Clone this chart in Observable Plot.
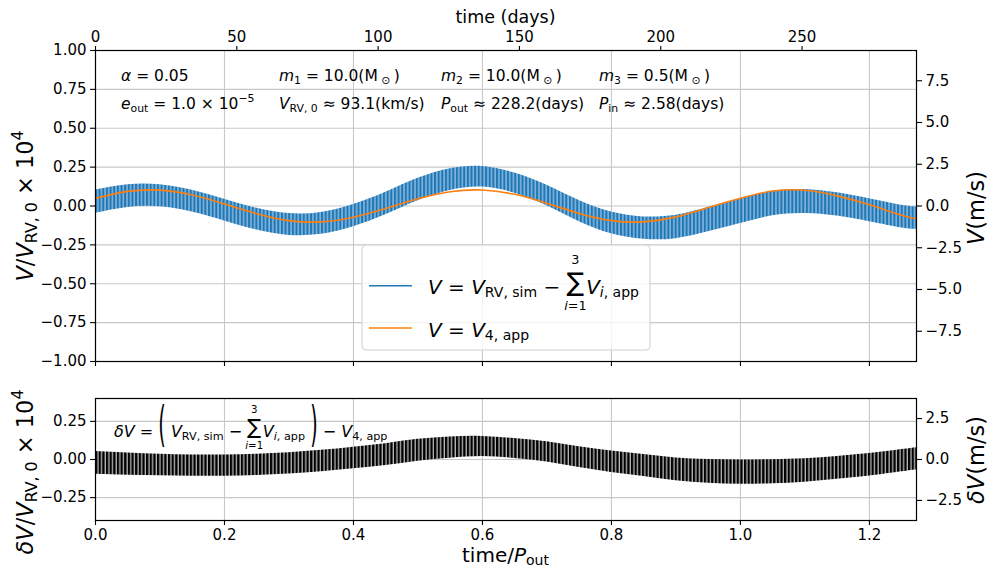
<!DOCTYPE html>
<html><head><meta charset="utf-8">
<script src="https://cdn.jsdelivr.net/npm/d3@7"></script>
<script src="https://cdn.jsdelivr.net/npm/@observablehq/plot@0.6"></script>
<style>
body{margin:0;background:#fff;}
#wrap{position:relative;width:990px;height:574px;overflow:hidden;background:#fff;font-family:"DejaVu Sans",sans-serif;}
#wrap svg{position:absolute;left:0;}
#wrap svg text{white-space:pre;}
</style></head><body><div id="wrap"></div>
<script>
// ---- constants ----
const POUT = 228.2;      // days
const PIN = 2.58;        // days
const VRV0 = 9.31;       // m/s per (V/V_RV,0 x 1e4) unit
const XMAX = 1.273;

// ---- ticks ----
const xTicks = [0, 0.2, 0.4, 0.6, 0.8, 1.0, 1.2];
const dayTicks = [0, 50, 100, 150, 200, 250];
const yTicksTop = [-1, -0.75, -0.5, -0.25, 0, 0.25, 0.5, 0.75, 1];
const vTicksTop = [-7.5, -5, -2.5, 0, 2.5, 5, 7.5];
const yTicksBot = [-0.25, 0, 0.25];
const vTicksBot = [-2.5, 0, 2.5];

// ---- series (time / P_out samples, values in V/V_RV,0 x 1e4) ----
const tSample   = [0, 0.05, 0.10, 0.15, 0.20, 0.25, 0.30, 0.35, 0.40, 0.45, 0.50, 0.55, 0.60, 0.65, 0.70, 0.75, 0.80, 0.85, 0.90, 0.95, 1.00, 1.05, 1.10, 1.15, 1.20, 1.25, 1.273];
const orangeV   = [0.050, 0.094, 0.102, 0.071, 0.013, -0.050, -0.094, -0.102, -0.072, -0.016, 0.046, 0.092, 0.103, 0.075, 0.017, -0.048, -0.094, -0.102, -0.070, -0.010, 0.050, 0.096, 0.101, 0.065, 0.008, -0.060, -0.082];
const blueUpper = [0.103, 0.137, 0.137, 0.101, 0.043, -0.015, -0.049, -0.042, 0.009, 0.088, 0.178, 0.240, 0.254, 0.212, 0.133, 0.035, -0.039, -0.070, -0.060, -0.010, 0.047, 0.095, 0.106, 0.085, 0.047, 0.005, -0.005];
const blueLower = [-0.047, -0.009, -0.005, -0.039, -0.097, -0.155, -0.189, -0.182, -0.133, -0.056, 0.034, 0.100, 0.122, 0.082, 0.001, -0.101, -0.179, -0.214, -0.210, -0.166, -0.113, -0.063, -0.048, -0.065, -0.101, -0.141, -0.149];
const deltaUpper = [0.053, 0.043, 0.035, 0.030, 0.030, 0.035, 0.045, 0.060, 0.081, 0.104, 0.132, 0.148, 0.151, 0.137, 0.116, 0.083, 0.055, 0.032, 0.010, 0.000, -0.003, -0.001, 0.005, 0.020, 0.039, 0.065, 0.077];
const deltaLower = [-0.097, -0.103, -0.107, -0.110, -0.110, -0.105, -0.095, -0.080, -0.061, -0.040, -0.012, 0.008, 0.019, 0.007, -0.016, -0.053, -0.085, -0.112, -0.140, -0.156, -0.163, -0.159, -0.149, -0.130, -0.109, -0.081, -0.067];

const rows = tSample.map((t, i) => ({t, o: orangeV[i], bu: blueUpper[i], bl: blueLower[i], du: deltaUpper[i], dl: deltaLower[i]}));

const BLUE = "#1f77b4", ORANGE = "#ff7f0e";
const NS = "http://www.w3.org/2000/svg";
function el(tag, attrs, parent) {
  const e = document.createElementNS(NS, tag);
  for (const k in attrs) e.setAttribute(k, attrs[k]);
  if (parent) parent.appendChild(e);
  return e;
}

const common = {
  width: 990, marginLeft: 95, marginRight: 74,
  style: {fontFamily: '"DejaVu Sans", sans-serif', fontSize: "15px", color: "#000", background: "transparent", overflow: "visible"}
};
const gridStyle = {stroke: "#c8c8c8", strokeOpacity: 1, strokeWidth: 1.1};
const axStyle = {tickSize: 5, tickPadding: 4, strokeWidth: 1.1, label: null};

const wrap = document.getElementById("wrap");

const topPlot = Plot.plot({
  ...common, height: 370, marginTop: 50, marginBottom: 9,
  x: {domain: [0, XMAX]}, y: {domain: [-1, 1]},
  marks: [
    Plot.gridX(xTicks, gridStyle),
    Plot.gridY(yTicksTop, gridStyle),
    Plot.areaY(rows, {x: "t", y1: "bl", y2: "bu", fill: "url(#bluePat)", curve: "natural"}),
    Plot.lineY(rows, {x: "t", y: "o", stroke: ORANGE, strokeWidth: 1.6, curve: "natural"}),
    Plot.frame({stroke: "#000", strokeWidth: 1.2}),
    Plot.axisY({...axStyle, ticks: yTicksTop, anchor: "left", tickFormat: d3.format(".2f")}),
    Plot.axisY({...axStyle, ticks: vTicksTop.map(v => v / VRV0), anchor: "right", tickFormat: d => d3.format(".1f")(d * VRV0)}),
    Plot.axisX({...axStyle, ticks: dayTicks.map(d => d / POUT), anchor: "top", tickFormat: d => d3.format("d")(Math.round(d * POUT))}),
    Plot.axisX({...axStyle, ticks: xTicks, anchor: "bottom", tickFormat: () => ""})
  ]
});
topPlot.style.top = "0px";
wrap.appendChild(topPlot);

const botPlot = Plot.plot({
  ...common, height: 204, marginTop: 28, marginBottom: 54,
  x: {domain: [0, XMAX]}, y: {domain: [-0.4, 0.4]},
  marks: [
    Plot.gridX(xTicks, gridStyle),
    Plot.gridY(yTicksBot, gridStyle),
    Plot.areaY(rows, {x: "t", y1: "dl", y2: "du", fill: "url(#blackPat)", curve: "natural"}),
    Plot.frame({stroke: "#000", strokeWidth: 1.2}),
    Plot.axisY({...axStyle, ticks: yTicksBot, anchor: "left", tickFormat: d3.format(".2f")}),
    Plot.axisY({...axStyle, ticks: vTicksBot.map(v => v / VRV0), anchor: "right", tickFormat: d => d3.format(".1f")(d * VRV0)}),
    Plot.axisX({...axStyle, ticks: xTicks, anchor: "bottom", tickFormat: d3.format(".1f")})
  ]
});
botPlot.style.top = "370px";
wrap.appendChild(botPlot);

// stripe patterns mimic the fast inner-orbit oscillation (half period P_in/2)
function addPattern(svg, id, dark, light, frac) {
  const xs = svg.scale("x");
  const x0 = xs.apply(0);
  const pw = xs.apply(PIN / POUT / 2) - x0;
  const defs = el("defs", {});
  svg.insertBefore(defs, svg.firstChild);
  const p = el("pattern", {id, patternUnits: "userSpaceOnUse", x: x0, y: 0, width: pw, height: 20}, defs);
  el("rect", {x: 0, y: 0, width: pw, height: 20, fill: light}, p);
  el("rect", {x: 0, y: 0, width: pw * frac, height: 20, fill: dark}, p);
}
addPattern(topPlot, "bluePat", BLUE, "#80b3dc", 0.55);
addPattern(botPlot, "blackPat", "#000", "#b8b8b8", 0.64);

// ---- overlay: labels, annotations, legend (math typeset with tspans) ----
const ov = el("svg", {width: 990, height: 574, "font-family": '"DejaVu Sans", sans-serif'});
ov.style.top = "0px";
ov.style.pointerEvents = "none";
wrap.appendChild(ov);

function put(g, x, y, s, fs, italic, anchor) {
  const t = el("text", {x, y, "font-size": fs, fill: "#000"}, g);
  if (italic) t.setAttribute("font-style", "italic");
  if (anchor) t.setAttribute("text-anchor", anchor);
  t.textContent = s;
  return t;
}
function math(parent, size, items) {
  const g = el("g", {}, parent);
  let x = 0;
  for (let it of items) {
    if (typeof it === "string") it = {t: it};
    if (it.sum) {
      const fs = size * 1.3;
      const t = put(g, x, -size * 0.17, "∑", fs, false);
      const w = t.getComputedTextLength();
      put(g, x + w / 2, -size * 1.49, it.top, size * 0.64, false, "middle");
      const b = el("text", {x: x + w / 2, y: size * 0.78, "font-size": size * 0.64, "text-anchor": "middle"}, g);
      const b1 = el("tspan", {"font-style": "italic"}, b); b1.textContent = "i";
      const b2 = el("tspan", {}, b); b2.textContent = "=1";
      x += w + size * 0.1;
      continue;
    }
    let fs = size * (it.s ? 0.7 : 1) * (it.k || 1);
    let dy = it.s === "sub" ? size * 0.17 : it.s === "sup" ? -size * 0.45 : 0;
    dy += (it.dy || 0) * size;
    const t = put(g, 0, 0, it.t, fs, it.i);
    const sx = it.sx || 1;
    t.setAttribute("transform", `translate(${x},${dy}) scale(${sx},1)`);
    x += t.getComputedTextLength() * sx + (it.sp || 0) * size;
  }
  return {g, w: x};
}
function place(size, items, x, y, opts = {}) {
  const m = math(ov, size, items);
  const w = m.w;
  if (opts.rot) {
    m.g.setAttribute("transform", `translate(${x},${y}) rotate(-90) translate(${-w / 2},0)`);
  } else if (opts.center) {
    m.g.setAttribute("transform", `translate(${x - w / 2},${y})`);
  } else {
    m.g.setAttribute("transform", `translate(${x},${y})`);
  }
  return m;
}

// axis titles
place(17.5, ["time (days)"], 505.5, 23, {center: true});
place(20, ["time/", {t: "P", i: 1}, {t: "out", s: "sub"}], 505.5, 562, {center: true});
place(22.5, [{t: "V", i: 1}, "/", {t: "V", i: 1}, {t: "RV, 0", s: "sub"}, " × 10", {t: "4", s: "sup"}], 33, 206, {rot: true});
place(22.5, [{t: "δV", i: 1}, "/", {t: "V", i: 1}, {t: "RV, 0", s: "sub"}, " × 10", {t: "4", s: "sup"}], 33, 472, {rot: true});
place(22.5, [{t: "V", i: 1}, "(m/s)"], 984, 208, {rot: true});
place(22.5, [{t: "δV", i: 1}, "(m/s)"], 984, 460, {rot: true});

// parameter annotations
const AF = 15.5, R1 = 81, R2 = 109;
place(AF, [{t: "α", i: 1}, " = 0.05"], 121, R1);
place(AF, [{t: "m", i: 1}, {t: "1", s: "sub"}, " = 10.0(M", {t: " ⊙ ", s: "sub"}, ")"], 279, R1);
place(AF, [{t: "m", i: 1}, {t: "2", s: "sub"}, " = 10.0(M", {t: " ⊙ ", s: "sub"}, ")"], 441, R1);
place(AF, [{t: "m", i: 1}, {t: "3", s: "sub"}, " = 0.5(M", {t: " ⊙ ", s: "sub"}, ")"], 599, R1);
place(AF, [{t: "e", i: 1}, {t: "out", s: "sub"}, " = 1.0 × 10", {t: "−5", s: "sup"}], 121, R2);
place(AF, [{t: "V", i: 1}, {t: "RV, 0", s: "sub"}, " ≈ 93.1(km/s)"], 279, R2);
place(AF, [{t: "P", i: 1}, {t: "out", s: "sub"}, " ≈ 228.2(days)"], 441, R2);
place(AF, [{t: "P", i: 1}, {t: "in", s: "sub"}, " ≈ 2.58(days)"], 599, R2);

// delta annotation in lower panel
place(16, [{t: "δV", i: 1}, " = ", {t: "(", k: 3.0, sx: 0.4, dy: 0.24}, " ", {t: "V", i: 1}, {t: "RV, sim", s: "sub"}, " − ", {sum: 1, top: "3"}, {t: "V", i: 1}, {t: "i", i: 1, s: "sub"}, {t: ", app", s: "sub"}, " ", {t: ")", k: 3.0, sx: 0.4, dy: 0.24}, " − ", {t: "V", i: 1}, {t: "4, app", s: "sub"}], 114, 437);

// legend
el("rect", {x: 362, y: 245, width: 288, height: 105, rx: 4, fill: "#fff", "fill-opacity": 0.8, stroke: "#d0d0d0", "stroke-width": 1}, ov);
el("line", {x1: 369, x2: 412, y1: 285.7, y2: 285.7, stroke: BLUE, "stroke-width": 1.6}, ov);
el("line", {x1: 369, x2: 412, y1: 328, y2: 328, stroke: ORANGE, "stroke-width": 1.6}, ov);
place(20, [{t: "V", i: 1}, " = ", {t: "V", i: 1}, {t: "RV, sim", s: "sub"}, " − ", {sum: 1, top: "3"}, {t: "V", i: 1}, {t: "i", i: 1, s: "sub"}, {t: ", app", s: "sub"}], 428, 294);
place(20, [{t: "V", i: 1}, " = ", {t: "V", i: 1}, {t: "4, app", s: "sub"}], 428, 336.5);
</script></body></html>
